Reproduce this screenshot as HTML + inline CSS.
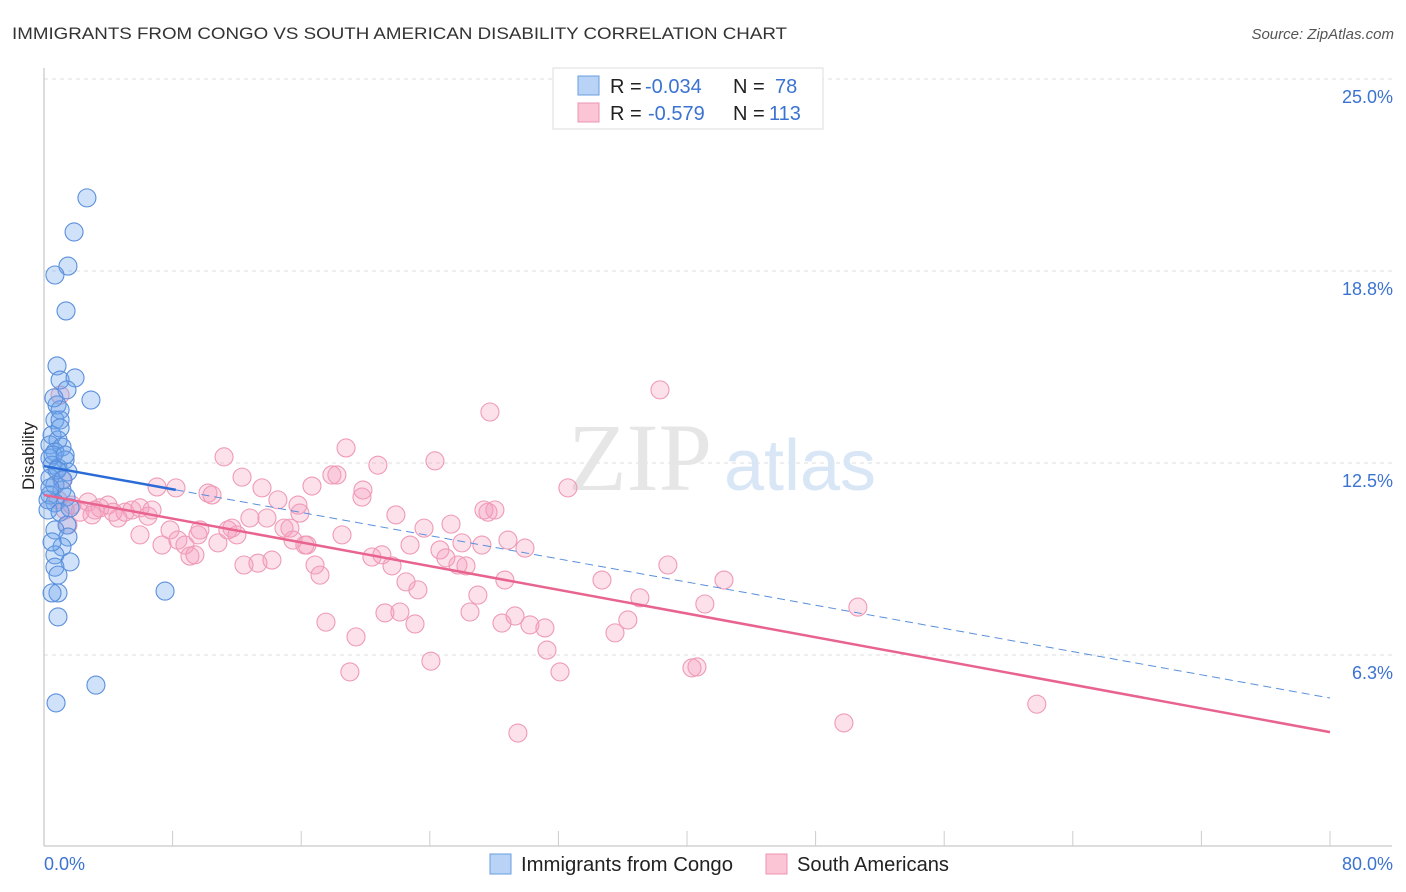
<!DOCTYPE html>
<html><head><meta charset="utf-8"><style>
body{margin:0;background:#fff;font-family:"Liberation Sans",sans-serif}
svg{display:block}
</style></head><body>
<svg id="c" width="1406" height="892" xmlns="http://www.w3.org/2000/svg">
<text x="12" y="39" font-size="17" fill="#333" textLength="775" lengthAdjust="spacingAndGlyphs">IMMIGRANTS FROM CONGO VS SOUTH AMERICAN DISABILITY CORRELATION CHART</text>
<text x="1394" y="39" font-size="15" fill="#555" font-style="italic" text-anchor="end">Source: ZipAtlas.com</text>
<g id="grid"></g>
<text x="640" y="490" font-size="96" fill="#e6e6e6" font-family="Liberation Serif,serif" text-anchor="middle">ZIP</text>
<text x="800" y="490" font-size="72" fill="#d8e6f6" text-anchor="middle">atlas</text>
<text transform="translate(34,456) rotate(-90)" font-size="17" fill="#222" text-anchor="middle">Disability</text>
<g id="marks"></g>
<g>
<rect x="553" y="68" width="270" height="61" fill="#fff" stroke="#ddd"/>
<rect x="578" y="76" width="21" height="19" fill="#b8d3f5" stroke="#6a9de0"/>
<rect x="578" y="103" width="21" height="19" fill="#fcc5d5" stroke="#ec94b0"/>
<text y="93" font-size="20" fill="#222"><tspan x="610">R =</tspan><tspan x="645" fill="#3b73d0">-0.034</tspan><tspan x="733">N =</tspan><tspan x="775" fill="#3b73d0">78</tspan></text>
<text y="120" font-size="20" fill="#222"><tspan x="610">R =</tspan><tspan x="648" fill="#3b73d0">-0.579</tspan><tspan x="733">N =</tspan><tspan x="769" fill="#3b73d0">113</tspan></text>
</g>
<g>
<rect x="490" y="854" width="21" height="20" fill="#b8d3f5" stroke="#6a9de0"/>
<text x="521" y="871" font-size="20" fill="#222" textLength="212" lengthAdjust="spacingAndGlyphs">Immigrants from Congo</text>
<rect x="766" y="854" width="21" height="20" fill="#fcc5d5" stroke="#ec94b0"/>
<text x="797" y="871" font-size="20" fill="#222" textLength="152" lengthAdjust="spacingAndGlyphs">South Americans</text>
</g>
</svg>
<script>
const yTicks=[6.25,12.5,18.75,25];
const yTickLabels=["6.3%","12.5%","18.8%","25.0%"];
const xTickLabels=["0.0%","80.0%"];
const congoX=[2.67,1.87,1.49,0.68,1.37,0.81,1.00,1.93,1.43,2.92,0.81,1.00,0.68,1.00,0.50,0.87,0.37,1.12,0.68,0.37,1.31,0.50,0.87,1.49,0.37,0.68,1.12,0.37,1.37,0.68,0.25,1.00,1.43,0.68,1.49,1.12,0.68,1.62,0.68,0.87,0.50,0.87,7.53,3.23,0.75,0.56,0.81,0.25,1.18,1.62,0.50,0.87,1.00,0.62,1.31,0.37];
const congoY=[21.13,20.02,18.91,18.62,17.45,15.66,15.20,15.27,14.88,14.55,14.39,14.23,13.90,13.90,13.41,13.25,13.09,13.02,12.86,12.66,12.60,12.43,12.34,12.21,12.01,11.78,11.62,11.46,11.39,11.20,10.97,10.90,10.48,10.32,10.09,9.77,9.51,9.28,9.11,8.27,8.27,7.49,8.33,5.27,4.69,12.76,12.27,11.30,11.95,11.04,9.93,8.85,13.64,14.62,12.76,11.69];
const southX=[1.00,1.12,0.87,1.31,1.74,2.24,2.74,3.17,3.48,3.98,4.60,5.04,5.47,5.97,6.47,6.72,7.03,7.34,7.84,8.21,8.33,8.77,9.08,9.39,9.70,10.20,10.45,10.82,11.20,11.44,11.69,12.00,12.32,12.44,12.81,13.31,13.56,13.87,14.18,14.55,14.93,15.30,15.49,15.80,15.92,16.36,16.86,17.17,16.67,17.54,17.91,18.22,18.54,18.79,19.03,19.41,19.78,19.84,20.40,20.77,21.02,21.21,21.65,21.89,22.14,22.52,22.77,23.08,23.26,23.64,24.07,24.32,24.63,25.00,25.32,25.75,26.00,26.25,26.50,26.99,27.24,27.74,27.62,28.05,28.49,28.67,28.86,29.30,29.48,29.92,30.23,31.16,31.29,32.10,32.59,34.71,35.52,36.32,37.07,38.32,38.81,40.31,40.62,41.11,42.30,50.63,49.76,61.76,27.37,16.23,9.58,4.29,2.99,5.97,1.49];
const southY=[14.71,11.95,11.30,10.97,11.13,10.90,11.23,10.97,11.04,11.13,10.71,10.90,10.97,11.04,10.77,10.97,11.72,9.83,10.32,11.69,9.99,9.83,9.47,9.51,10.32,11.52,11.46,9.90,12.70,10.32,10.38,10.16,12.04,9.18,10.71,9.24,11.69,10.71,9.34,11.30,10.38,10.38,9.99,11.13,10.87,9.83,9.18,8.85,11.75,7.32,12.11,12.11,10.16,12.99,5.70,6.84,11.39,11.62,9.44,12.43,9.51,7.62,9.15,10.81,7.65,8.63,9.83,7.26,8.37,10.38,6.05,12.57,9.67,9.41,10.51,9.18,9.90,9.15,7.65,8.20,9.83,14.16,10.90,10.97,7.29,8.69,9.99,7.52,3.71,9.73,7.23,7.13,6.41,5.70,11.69,8.69,6.97,7.39,8.11,14.88,9.18,5.83,5.86,7.91,8.69,7.81,4.04,4.65,10.97,9.83,10.16,10.90,10.81,10.16,10.48];
const congoTrend=[12.40,4.85];
const southTrend=[11.46,3.74];
const congoSolidEnd=8.2;
const NS="http://www.w3.org/2000/svg";
const X=v=>44+v/80*1286, Y=v=>847-v*30.72;
const svg=document.getElementById('c'),grid=document.getElementById('grid'),marks=document.getElementById('marks');
function mk(tag,attrs,parent){const e=document.createElementNS(NS,tag);for(const k in attrs)e.setAttribute(k,attrs[k]);parent.appendChild(e);return e;}
yTicks.forEach((t,i)=>{
 const l=mk('line',{x1:44,x2:1392,y1:Y(t),y2:Y(t),stroke:'#ddd','stroke-dasharray':'4,4'},grid);
 
 
 const tx=mk('text',{x:1393,y:Y(t)+24,'font-size':18,fill:'#3b73d0','text-anchor':'end'},grid);
 tx.textContent=yTickLabels[i];
 
 
});
let ax=mk('line',{x1:44,x2:44,y1:68,y2:846,stroke:'#bbb'},grid);


ax=mk('line',{x1:44,x2:1392,y1:846,y2:846,stroke:'#bbb'},grid);


for(let i=1;i<=10;i++){
 const t=mk('line',{x1:X(i*8),x2:X(i*8),y1:831,y2:846,stroke:'#ccc'},grid);
 
 
}
[[0,'start',44],[80,'end',1393]].forEach((d,i)=>{
 const t=mk('text',{x:d[2],y:870,'font-size':18,fill:'#3b73d0','text-anchor':d[1]},grid);
 t.textContent=xTickLabels[i];
 
 
});
southX.forEach((v,i)=>{
 const c=mk('circle',{cx:X(v),cy:Y(southY[i]),r:9,fill:'rgba(246,160,190,0.32)',stroke:'#ef9ab6','stroke-width':1.1},marks);
 
 
});
congoX.forEach((v,i)=>{
 const c=mk('circle',{cx:X(v),cy:Y(congoY[i]),r:9,fill:'rgba(110,165,235,0.32)',stroke:'#5a8fdc','stroke-width':1.1},marks);
 
 
});
const cy=v=>congoTrend[0]+(congoTrend[1]-congoTrend[0])*v/80;
let l=mk('line',{x1:X(0),y1:Y(cy(0)),x2:X(congoSolidEnd),y2:Y(cy(congoSolidEnd)),stroke:'#2a6bd6','stroke-width':2.5},marks);


l=mk('line',{x1:X(congoSolidEnd),y1:Y(cy(congoSolidEnd)),x2:X(80),y2:Y(cy(80)),stroke:'#5a8fdc','stroke-width':1,'stroke-dasharray':'8,5'},marks);


l=mk('line',{x1:X(0),y1:Y(southTrend[0]),x2:X(80),y2:Y(southTrend[1]),stroke:'#e8648f','stroke-width':2.5},marks);


</script>
</body></html>
